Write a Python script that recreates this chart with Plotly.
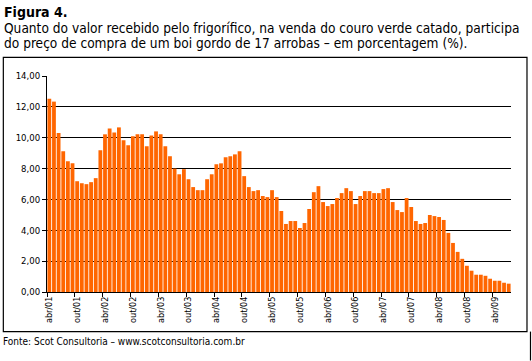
import plotly.graph_objects as go

# ---- data ----
valores = [
    12.52, 12.34, 10.30, 9.12, 8.47, 8.34, 7.18, 7.05, 6.99, 7.12, 7.38, 9.18,
    10.22, 10.60, 10.34, 10.67, 9.83, 9.51, 10.09, 10.22, 10.22, 9.44, 10.15, 10.41,
    10.22, 9.44, 8.80, 8.00, 7.63, 7.96, 7.31, 6.80, 6.60, 6.60, 7.31, 7.63,
    8.28, 8.34, 8.73, 8.80, 8.92, 9.12, 7.51, 6.80, 6.54, 6.60, 6.22, 6.15,
    6.60, 6.15, 5.25, 4.41, 4.60, 4.60, 4.15, 4.47, 5.38, 6.47, 6.86, 5.83,
    5.57, 5.70, 6.09, 6.41, 6.73, 6.54, 5.70, 6.22, 6.54, 6.54, 6.41, 6.41,
    6.67, 6.73, 5.83, 5.31, 5.18, 6.09, 5.51, 4.60, 4.41, 4.47, 4.99, 4.92,
    4.86, 4.67, 3.83, 3.18, 2.60, 2.15, 1.70, 1.38, 1.12, 1.12, 1.05, 0.86,
    0.73, 0.73, 0.60, 0.54,
]
rotulos_x = ["abr/01", "out/01", "abr/02", "out/02", "abr/03", "out/03", "abr/04", "out/04",
             "abr/05", "out/05", "abr/06", "out/06", "abr/07", "out/07", "abr/08", "out/08", "abr/09"]
y_ticks = [0, 2, 4, 6, 8, 10, 12, 14]

titulo = "Figura 4."
subtitulo1 = "Quanto do valor recebido pelo frigorífico, na venda do couro verde catado, participa"
subtitulo2 = "do preço de compra de um boi gordo de 17 arrobas – em porcentagem (%)."
fonte = "Fonte: Scot Consultoria – www.scotconsultoria.com.br"

# ---- layout geometry (pixels) ----
W, H = 532, 361
L, R, T, B = 46.7, 511.0, 75.7, 292.3
FONT = "Liberation Sans Narrow, DejaVu Sans Condensed, Arial Narrow, sans-serif"

def px(x):
    return (x - L) / (R - L)

def py(y):
    return (B - y) / (B - T)

idx = list(range(len(valores)))
tick_pos = [i * 6 for i in range(len(rotulos_x))]

fig = go.Figure()
fig.add_trace(go.Bar(x=idx, y=valores, marker=dict(color="#FF6600", line=dict(width=0)),
                     width=0.82, showlegend=False))

fig.update_layout(
    width=W, height=H,
    margin=dict(l=L, r=W - R, t=T, b=H - B, pad=0, autoexpand=False),
    paper_bgcolor="white", plot_bgcolor="white",
    separators=",.",
    font=dict(family=FONT, color="black", size=10),
    xaxis=dict(
        range=[-0.5, len(valores) - 0.5],
        tickvals=tick_pos, ticktext=rotulos_x, tickangle=-90,
        ticks="", showgrid=False, showline=True, linecolor="black", linewidth=1,
        tickfont=dict(size=9, family=FONT),
        minor=dict(tickvals=[p - 0.5 for p in tick_pos], ticks="outside", ticklen=4,
                   tickcolor="black", tickwidth=1, showgrid=False),
        zeroline=False,
    ),
    yaxis=dict(
        range=[0, 14], tickvals=y_ticks, tickformat=".2f",
        showgrid=True, gridcolor="black", gridwidth=1,
        showline=True, linecolor="black", linewidth=1,
        ticks="outside", ticklen=4, tickcolor="black",
        tickfont=dict(size=9.5, family=FONT), zeroline=False,
    ),
    bargap=0.2,
)

# outer box around chart
fig.add_shape(type="rect", xref="paper", yref="paper",
              x0=px(3), x1=px(527), y0=py(332), y1=py(57),
              line=dict(color="black", width=1.2), fillcolor="rgba(0,0,0,0)", layer="below")
# right page edge below box
fig.add_shape(type="line", xref="paper", yref="paper",
              x0=px(530.5), x1=px(530.5), y0=py(361), y1=py(332),
              line=dict(color="black", width=1.2))

def texto(t, x, y, size, bold=False):
    fig.add_annotation(text=f"<b>{t}</b>" if bold else t, xref="paper", yref="paper",
                       x=px(x), y=py(y), xanchor="left", yanchor="middle",
                       showarrow=False, font=dict(family=FONT, size=size, color="black"))

texto(titulo, 2, 12, 14, bold=True)
texto(subtitulo1, 2, 28, 13.6)
texto(subtitulo2, 2, 43, 13.6)
texto(fonte, 1, 342, 10)

fig.write_html("out.html", config={"displayModeBar": False},
               post_script="document.body.style.margin='0';")
